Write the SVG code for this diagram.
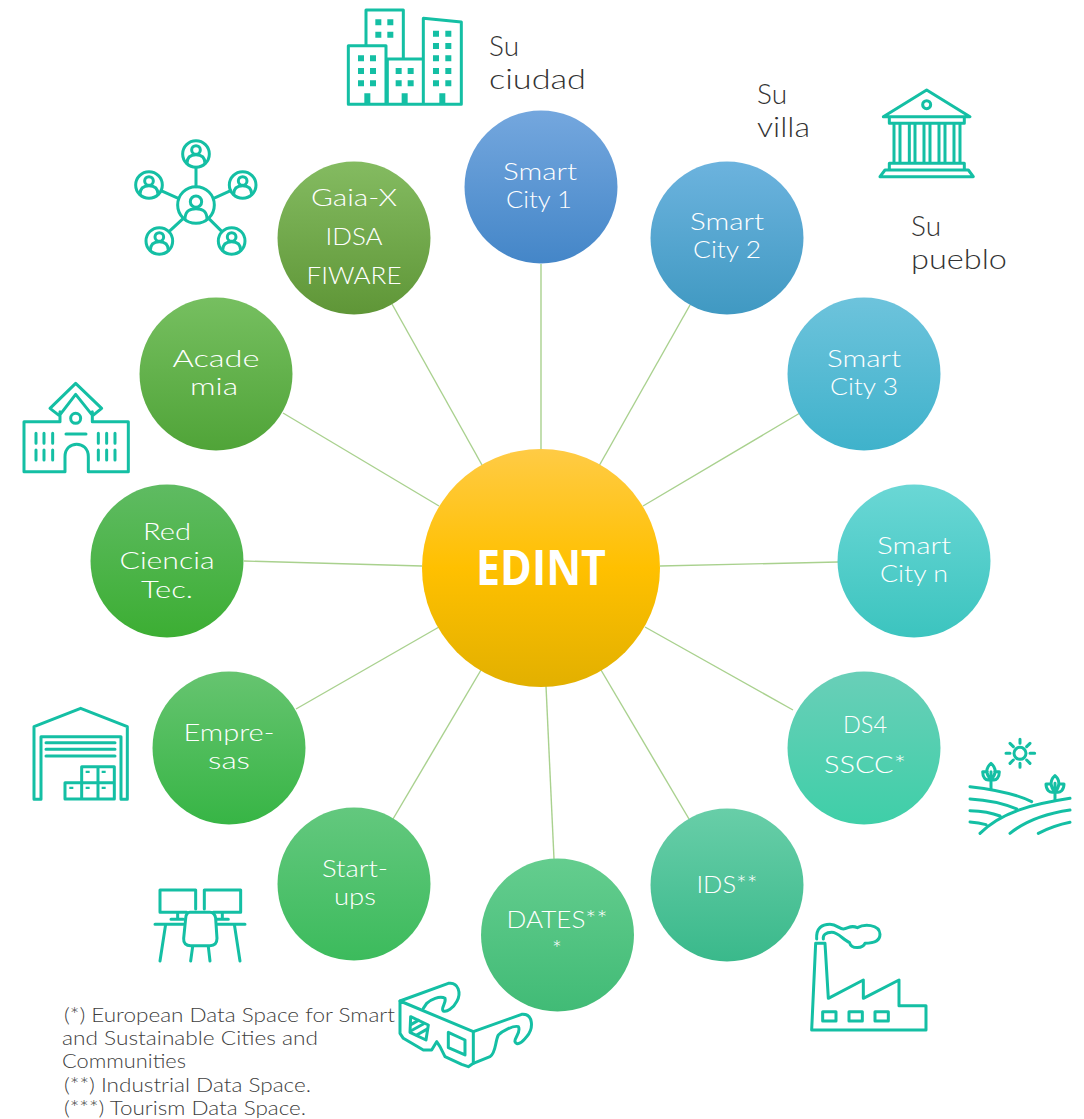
<svg xmlns="http://www.w3.org/2000/svg" width="1084" height="1119" viewBox="0 0 1084 1119">
<style>
.c{fill:none;stroke:#a9d18e;stroke-width:1.4}
.n{fill:#fff;font-family:"Lato","Open Sans","Liberation Sans",sans-serif;font-size:23px;text-anchor:middle;font-weight:300}
.o{fill:#333;font-family:"Lato","Open Sans","Liberation Sans",sans-serif;font-size:26.500px;font-weight:300}
.f{fill:#404040;font-family:"Lato","Open Sans","Liberation Sans",sans-serif;font-size:19px;font-weight:300}
.e{fill:#fff;font-family:"Open Sans","Liberation Sans",sans-serif;font-size:48px;font-weight:700;text-anchor:middle}
.i{fill:none;stroke:#14bfa4;stroke-width:9;stroke-linejoin:round;stroke-linecap:round}
.i .w{fill:#14bfa4;stroke:none}
</style>
<defs>
<linearGradient id="g1" x1="0" y1="0" x2="0" y2="1"><stop offset="0" stop-color="#74a7de"/><stop offset="1" stop-color="#4486c8"/></linearGradient>
<linearGradient id="g2" x1="0" y1="0" x2="0" y2="1"><stop offset="0" stop-color="#6cb3de"/><stop offset="1" stop-color="#4099c2"/></linearGradient>
<linearGradient id="g3" x1="0" y1="0" x2="0" y2="1"><stop offset="0" stop-color="#6dc3dc"/><stop offset="1" stop-color="#3fb2cb"/></linearGradient>
<linearGradient id="g4" x1="0" y1="0" x2="0" y2="1"><stop offset="0" stop-color="#6ad7d5"/><stop offset="1" stop-color="#3cc4bf"/></linearGradient>
<linearGradient id="g5" x1="0" y1="0" x2="0" y2="1"><stop offset="0" stop-color="#69cfb8"/><stop offset="1" stop-color="#3fcfa8"/></linearGradient>
<linearGradient id="g6" x1="0" y1="0" x2="0" y2="1"><stop offset="0" stop-color="#68cea8"/><stop offset="1" stop-color="#3ab98b"/></linearGradient>
<linearGradient id="g7" x1="0" y1="0" x2="0" y2="1"><stop offset="0" stop-color="#64cd8e"/><stop offset="1" stop-color="#41bb76"/></linearGradient>
<linearGradient id="g8" x1="0" y1="0" x2="0" y2="1"><stop offset="0" stop-color="#63c87e"/><stop offset="1" stop-color="#3cbb5c"/></linearGradient>
<linearGradient id="g9" x1="0" y1="0" x2="0" y2="1"><stop offset="0" stop-color="#66c470"/><stop offset="1" stop-color="#37b545"/></linearGradient>
<linearGradient id="g10" x1="0" y1="0" x2="0" y2="1"><stop offset="0" stop-color="#5fbb62"/><stop offset="1" stop-color="#3cae33"/></linearGradient>
<linearGradient id="g11" x1="0" y1="0" x2="0" y2="1"><stop offset="0" stop-color="#76bf60"/><stop offset="1" stop-color="#50a438"/></linearGradient>
<linearGradient id="g12" x1="0" y1="0" x2="0" y2="1"><stop offset="0" stop-color="#84bb61"/><stop offset="1" stop-color="#5f9637"/></linearGradient>
<linearGradient id="g0" x1="0" y1="0" x2="0" y2="1"><stop offset="0" stop-color="#ffcb45"/><stop offset=".5" stop-color="#ffc000"/><stop offset="1" stop-color="#e2b000"/></linearGradient>
<g id="p"><circle r="40"/><circle cy="-12" r="13"/><path d="M-27 28C-27 4-10 2 0 2S27 4 27 28"/></g>
</defs>
<g id="connectors">
<line class="c" x1="541" y1="264" x2="541" y2="449"/>
<line class="c" x1="690" y1="305" x2="599" y2="466"/>
<line class="c" x1="800" y1="413" x2="643" y2="506"/>
<line class="c" x1="838" y1="562" x2="660" y2="566"/>
<line class="c" x1="793" y1="710" x2="645" y2="627"/>
<line class="c" x1="689" y1="819" x2="601" y2="670"/>
<line class="c" x1="554" y1="859" x2="546" y2="686"/>
<line class="c" x1="393" y1="819" x2="481" y2="670"/>
<line class="c" x1="296" y1="709" x2="439" y2="627"/>
<line class="c" x1="244" y1="561" x2="422" y2="566"/>
<line class="c" x1="283" y1="413" x2="439" y2="506"/>
<line class="c" x1="392" y1="304" x2="482" y2="465"/>
</g>
<g id="edint"><circle cx="541" cy="568" r="119" fill="url(#g0)"/><text class="e" x="541" y="585" textLength="130" lengthAdjust="spacingAndGlyphs">EDINT</text></g>
<g id="sc1"><circle cx="541" cy="187" r="76.500" fill="url(#g1)"/><text class="n" x="540" y="180" textLength="74" lengthAdjust="spacingAndGlyphs">Smart</text><text class="n" x="539" y="208" textLength="66" lengthAdjust="spacingAndGlyphs">City 1</text></g>
<g id="sc2"><circle cx="727" cy="238" r="76.500" fill="url(#g2)"/><text class="n" x="727" y="230" textLength="74" lengthAdjust="spacingAndGlyphs">Smart</text><text class="n" x="727" y="258" textLength="68" lengthAdjust="spacingAndGlyphs">City 2</text></g>
<g id="sc3"><circle cx="864" cy="374" r="76.500" fill="url(#g3)"/><text class="n" x="864" y="367" textLength="74" lengthAdjust="spacingAndGlyphs">Smart</text><text class="n" x="864" y="395" textLength="68" lengthAdjust="spacingAndGlyphs">City 3</text></g>
<g id="scn"><circle cx="914" cy="561" r="76.500" fill="url(#g4)"/><text class="n" x="914" y="554" textLength="74" lengthAdjust="spacingAndGlyphs">Smart</text><text class="n" x="914" y="582" textLength="68" lengthAdjust="spacingAndGlyphs">City n</text></g>
<g id="ds4"><circle cx="864" cy="748" r="76.500" fill="url(#g5)"/><text class="n" x="865" y="733" textLength="44" lengthAdjust="spacingAndGlyphs">DS4</text><text class="n" x="865" y="773" textLength="82" lengthAdjust="spacingAndGlyphs">SSCC*</text></g>
<g id="ids"><circle cx="727" cy="885" r="76.500" fill="url(#g6)"/><text class="n" x="727" y="893" textLength="61" lengthAdjust="spacingAndGlyphs">IDS**</text></g>
<g id="dates"><circle cx="557.500" cy="935" r="76.500" fill="url(#g7)"/><text class="n" x="557" y="928" textLength="101" lengthAdjust="spacingAndGlyphs">DATES**</text><text class="n" x="557" y="958">*</text></g>
<g id="startups"><circle cx="354" cy="884" r="76.500" fill="url(#g8)"/><text class="n" x="355" y="877" textLength="66" lengthAdjust="spacingAndGlyphs">Start-</text><text class="n" x="355" y="905" textLength="42" lengthAdjust="spacingAndGlyphs">ups</text></g>
<g id="empresas"><circle cx="229" cy="748" r="76.500" fill="url(#g9)"/><text class="n" x="229" y="741" textLength="91" lengthAdjust="spacingAndGlyphs">Empre-</text><text class="n" x="229" y="769" textLength="42" lengthAdjust="spacingAndGlyphs">sas</text></g>
<g id="red"><circle cx="167" cy="561" r="76.500" fill="url(#g10)"/><text class="n" x="167" y="540" textLength="48" lengthAdjust="spacingAndGlyphs">Red</text><text class="n" x="167" y="569" textLength="95" lengthAdjust="spacingAndGlyphs">Ciencia</text><text class="n" x="167" y="598" textLength="52" lengthAdjust="spacingAndGlyphs">Tec.</text></g>
<g id="academia"><circle cx="216" cy="374" r="76.500" fill="url(#g11)"/><text class="n" x="216" y="367" textLength="87" lengthAdjust="spacingAndGlyphs">Acade</text><text class="n" x="214" y="395" textLength="48" lengthAdjust="spacingAndGlyphs">mia</text></g>
<g id="gaia"><circle cx="354" cy="238" r="76.500" fill="url(#g12)"/><text class="n" x="354" y="206" textLength="86" lengthAdjust="spacingAndGlyphs">Gaia-X</text><text class="n" x="354" y="245" textLength="57" lengthAdjust="spacingAndGlyphs">IDSA</text><text class="n" x="354" y="284" textLength="95" lengthAdjust="spacingAndGlyphs">FIWARE</text></g>

<g id="label-ciudad"><text class="o" x="489" y="56" textLength="30" lengthAdjust="spacingAndGlyphs">Su</text><text class="o" x="489" y="89" textLength="97" lengthAdjust="spacingAndGlyphs">ciudad</text></g>
<g id="label-villa"><text class="o" x="757" y="104" textLength="30" lengthAdjust="spacingAndGlyphs">Su</text><text class="o" x="757" y="137" textLength="53" lengthAdjust="spacingAndGlyphs">villa</text></g>
<g id="label-pueblo"><text class="o" x="911" y="236" textLength="30" lengthAdjust="spacingAndGlyphs">Su</text><text class="o" x="911" y="269" textLength="96" lengthAdjust="spacingAndGlyphs">pueblo</text></g>

<g id="icon-city" class="i" transform="translate(330 0) scale(.3333)">
<path d="M55 313V137H168V313ZM172 313V177H280V313ZM280 313V55L394 66V313ZM108 137V30H220V177M55 313H394"/>
<path class="w" d="M136 58h18v18h-18zM172 58h18v18h-18zM136 95h18v18h-18zM172 95h18v18h-18zM84 166h18v18h-18zM120 166h18v18h-18zM84 204h18v18h-18zM120 204h18v18h-18zM84 241h18v18h-18zM120 241h18v18h-18zM197 204h18v18h-18zM233 204h18v18h-18zM197 241h18v18h-18zM233 241h18v18h-18zM309 92h18v18h-18zM346 92h18v18h-18zM309 129h18v18h-18zM346 129h18v18h-18zM309 166h18v18h-18zM346 166h18v18h-18zM309 204h18v18h-18zM346 204h18v18h-18zM309 241h18v18h-18zM346 241h18v18h-18zM103 280h18v33h-18zM215 280h18v33h-18zM328 280h18v33h-18z"/>
</g>
<g id="icon-network" class="i" transform="translate(120 130) scale(.3333)">
<use href="#p" x="228" y="72"/><use href="#p" x="87" y="165"/><use href="#p" x="368" y="165"/><use href="#p" x="118" y="333"/><use href="#p" x="335" y="333"/>
<circle cx="228" cy="225" r="55"/><circle cx="228" cy="215" r="17"/><path d="M195 268C195 240 212 236 228 236S261 240 261 268"/>
<path d="M228 112V170M123 182L175 205M332 182L281 205M147 305L190 265M306 305L266 265"/>
</g>
<g id="icon-bank" class="i" transform="translate(870 80) scale(.3333)">
<path d="M40 110L170 30L300 110ZM58 112V130H283V112M72 130V250M90 130V250M118 130V250M135 130V250M162 130V250M180 130V250M207 130V250M225 130V250M252 130V250M270 130V250M58 270V250H283V270M45 270H295L310 290H30Z"/>
<circle cx="170" cy="74" r="12"/>
</g>
<g id="icon-school" class="i" transform="translate(10 375) scale(.3333)">
<path d="M197 25L275 100L248 122L197 58L148 122L120 100ZM150 110V140H42V290H165V245C165 195 235 195 235 245V290H355V140H247V110"/>
<circle cx="197" cy="130" r="15"/>
<path d="M168 177H228M78 175V205M102 175V205M128 175V205M78 225V255M102 225V255M128 225V255M265 175V205M290 175V205M315 175V205M265 225V255M290 225V255M315 225V255"/>
</g>
<g id="icon-warehouse" class="i" transform="translate(20 700) scale(.3333)">
<path d="M42 298V80L182 25L322 80V298H303V110H63V298ZM78 128H285M78 148H285M78 168H285M185 248V200H283V297H135V248H283M234 200V297M185 248V297"/>
<path class="w" d="M197 212h12v7h-12zM245 212h12v7h-12zM148 260h12v7h-12zM197 260h12v7h-12zM245 260h12v7h-12z"/>
</g>
<g id="icon-farm" class="i" transform="translate(960 730) scale(.3333)">
<circle cx="180" cy="70" r="18"/>
<path d="M180 28V40M180 100V112M138 70H150M210 70H224M150 40L160 50M210 40L200 50M150 100L160 90M210 100L200 90"/>
<path d="M93 178V125M93 100C75 115 78 135 93 148C108 135 111 115 93 100ZM93 148C75 155 68 140 68 125H82M93 148C111 155 118 140 118 125H104"/>
<path d="M285 210V160M285 137C268 152 271 172 285 185C299 172 302 152 285 137ZM285 185C268 192 258 178 258 162H272M285 185C302 192 312 178 312 162H298"/>
<path d="M30 170C100 178 165 190 215 215M30 207C85 210 130 220 170 237M30 242C65 243 95 248 120 258M30 276C48 277 65 280 78 284M60 310C125 245 220 222 330 205M150 310C200 270 260 250 330 240M235 310C265 295 300 283 330 277"/>
</g>
<g id="icon-desk" class="i" transform="translate(145 880) scale(.3333)">
<path d="M125 97H45V30H152V87M178 87V30H287V97H205M98 97V118M78 118H115M232 97V118M215 118H250M30 133H115M218 133H300M62 133L45 243M268 133L285 243M143 200L137 243M190 200L195 243"/>
<path d="M135 97H195C205 97 210 103 212 115L216 175C216 190 208 197 195 197H137C123 197 115 190 116 175L122 115C123 103 127 97 135 97Z"/>
</g>
<g id="icon-glasses" class="i" transform="translate(390 975) scale(.3333)">
<path d="M30 78L250 170V265L235 275L215 268L165 245L150 215L140 200L125 225L100 225L40 190L30 175Z"/>
<path d="M30 78L175 25C205 20 215 55 200 80C190 100 170 112 160 108C150 100 170 85 165 70C150 60 120 75 110 85L100 100"/>
<path d="M250 170L395 118C430 115 432 160 410 185C395 205 380 212 375 200C372 190 395 170 385 155C370 150 335 170 325 180C315 200 318 235 300 245L250 265"/>
<path d="M62 125L115 150L108 195L60 172ZM175 172L225 195V240L175 218Z"/>
<path d="M64 148L85 136M62 168L100 147M80 180L110 163"/>
</g>
<g id="icon-factory" class="i" transform="translate(800 915) scale(.3333)">
<path d="M47 85H75L85 250L190 195V250L297 195V272H378V345H35L47 85Z"/>
<path d="M68 290H108V318H68ZM147 290H187V318H147ZM225 290H265V318H225Z"/>
<path d="M50 72C48 40 65 28 90 28C110 28 118 42 130 42C145 42 150 28 172 38C190 28 238 25 240 58C240 82 215 85 195 85C190 100 155 105 148 82C130 75 115 52 95 52C78 52 68 60 70 72"/>
</g>
<g id="footnotes">
<text class="f" x="64" y="1022" textLength="331" lengthAdjust="spacingAndGlyphs">(*)  European Data Space for Smart</text>
<text class="f" x="62" y="1045" textLength="256" lengthAdjust="spacingAndGlyphs">and Sustainable Cities and</text>
<text class="f" x="62" y="1068" textLength="124" lengthAdjust="spacingAndGlyphs">Communities</text>
<text class="f" x="64" y="1092" textLength="247" lengthAdjust="spacingAndGlyphs">(**)  Industrial Data Space.</text>
<text class="f" x="64" y="1115" textLength="242" lengthAdjust="spacingAndGlyphs">(***)  Tourism Data Space.</text>
</g>
</svg>
